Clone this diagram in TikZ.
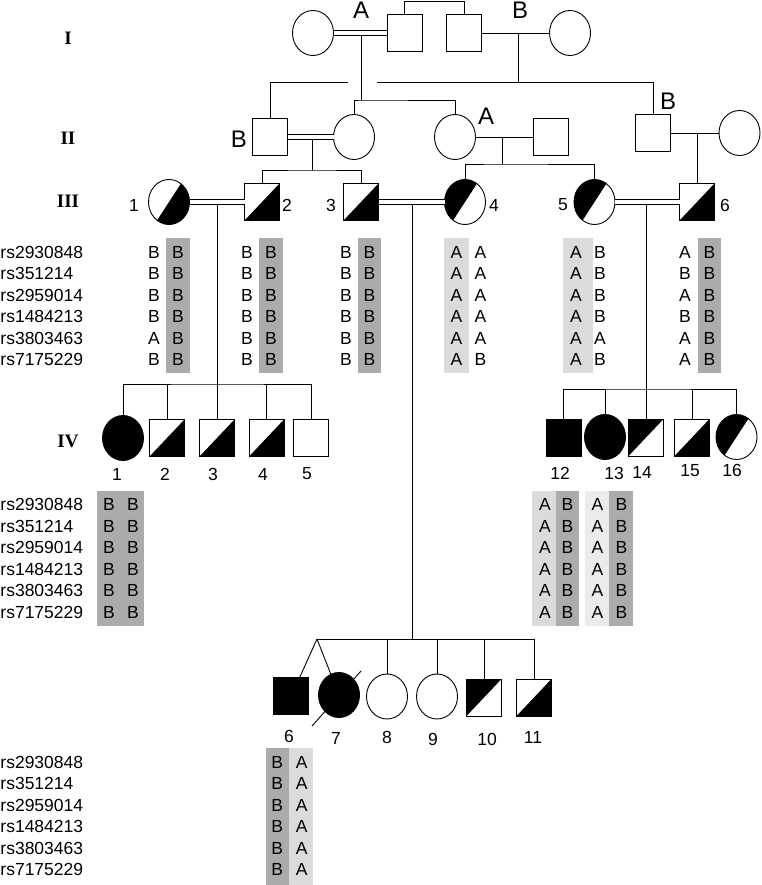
\documentclass[tikz,border=0pt]{standalone}
\usepackage{fontspec}
\setmainfont{Liberation Sans}
\newfontfamily\genfont{Liberation Serif}
\usetikzlibrary{shapes.geometric}

\definecolor{dkgray}{gray}{0.67}
\definecolor{ltgray}{gray}{0.86}
\definecolor{vltgray}{gray}{0.92}

\tikzset{
  male/.style={draw,rectangle,minimum width=35pt,minimum height=37pt,inner sep=0pt,outer sep=0pt},
  female/.style={draw,ellipse,minimum width=41pt,minimum height=45pt,inner sep=0pt,outer sep=0pt},
  sqLR/.style={path picture={\fill (path picture bounding box.south west) -- (path picture bounding box.south east) -- (path picture bounding box.north east) -- cycle;}},
  sqUL/.style={path picture={\fill (path picture bounding box.south west) -- (path picture bounding box.north west) -- (path picture bounding box.north east) -- cycle;}},
  ciLR/.style={path picture={\fill (path picture bounding box.center) ++(57:40pt) -- ++(-33:40pt) -- ++(237:80pt) -- ++(147:40pt) -- cycle;}},
  ciUL/.style={path picture={\fill (path picture bounding box.center) ++(237:40pt) -- ++(147:40pt) -- ++(57:80pt) -- ++(-33:40pt) -- cycle;}},
  dbl/.style={double,double distance=3.6pt},
  allele/.style={inner sep=0pt,font=\fontsize{17.5}{19}\selectfont},
  marker/.style={anchor=west,inner sep=0pt,font=\fontsize{17.5}{19}\selectfont},
  num/.style={inner sep=0pt,font=\fontsize{17.5}{19}\selectfont},
  hap/.style={inner sep=0pt,font=\fontsize{24}{27}\selectfont},
  gen/.style={inner sep=0pt,font=\genfont\bfseries\fontsize{19}{21}\selectfont}
}

% one genotype table: name, x of both columns, y of first row, pairs
\newcommand{\alleles}[5]{%
  \foreach \p/\q [count=\r from 0] in {#5} {
    \node (#1a\r) at (#2,#4+21.5*\r) [allele] {\p};
    \node (#1b\r) at (#3,#4+21.5*\r) [allele] {\q};
  }}
\newcommand{\markers}[2]{%
  \foreach \m [count=\r from 0] in {rs2930848,rs351214,rs2959014,rs1484213,rs3803463,rs7175229}
    \node (#1\r) at (0,#2+21.5*\r) [marker] {\m};}

\begin{document}
\begin{tikzpicture}[x=1pt,y=-1pt,line width=0.9pt]
  \useasboundingbox (0,0) rectangle (762,885);

  \node (gI) at (68,38) [gen] {I};
  \node (gII) at (68,138) [gen] {II};
  \node (gIII) at (68,201) [gen] {III};
  \node (gIV) at (68,441) [gen] {IV};

  % generation I
  \node (i1) at (313,33) [female] {};
  \node (i2) at (404.5,33) [male] {};
  \node (i3) at (464,33) [male] {};
  \node (i4) at (570,33) [female] {};
  \node (hA1) at (361,10) [hap] {A};
  \node (hB1) at (520,10) [hap] {B};

  \coordinate (tI) at (434,1.5);
  \coordinate (m1) at (361,35.5);
  \coordinate (s1) at (361,100);
  \coordinate (m2) at (518,33);
  \coordinate (s2) at (518,82);
  \coordinate (h1) at (348,82);
  \coordinate (h2) at (377,82);

  \draw (i2) |- (tI) -| (i3);
  \draw[dbl] (i1) -- (i2);
  \draw (i3) -- (i4);
  \draw (m1) -- (s1);
  \draw (m2) -- (s2);

  % generation II
  \node (ii1) at (270,137) [male] {};
  \node (ii2) at (354,137) [female] {};
  \node (ii3) at (455,137) [female] {};
  \node (ii4) at (551,137) [male] {};
  \node (ii5) at (653,133) [male] {};
  \node (ii6) at (739.5,133) [female] {};
  \node (hB2) at (239,139) [hap] {B};
  \node (hA2) at (486,116) [hap] {A};
  \node (hB3) at (668,101) [hap] {B};

  \draw (ii2) |- (s1) -| (ii3);
  \draw (ii1) |- (h1);
  \draw (h2) -| (ii5);
  \draw[dbl] (ii1) -- (ii2);
  \draw (ii3) -- (ii4);
  \draw (ii5) -- (ii6);

  \coordinate (m3) at (312,139.5);
  \coordinate (s3) at (312,170);
  \coordinate (m4) at (502,137);
  \coordinate (s4) at (502,164);
  \coordinate (m5) at (697,133);

  % generation III
  \node (iii1) at (169,202) [female,ciLR] {};
  \node (iii2) at (262,202) [male,sqLR] {};
  \node (iii3) at (361,202) [male,sqLR] {};
  \node (iii4) at (465,202) [female,ciUL] {};
  \node (iii5) at (594.5,202) [female,ciUL] {};
  \node (iii6) at (697,202) [male,sqLR] {};
  \node (n31) at (134,205) [num] {1};
  \node (n32) at (287,205) [num] {2};
  \node (n33) at (331,205) [num] {3};
  \node (n34) at (494,205) [num] {4};
  \node (n35) at (563,205) [num] {5};
  \node (n36) at (725,205) [num] {6};

  \draw (m3) -- (s3);
  \draw (m4) -- (s4);
  \draw (m5) -- (iii6);
  \draw (iii2) |- (s3) -| (iii3);
  \draw (iii4) |- (s4) -| (iii5);
  \draw[dbl] (iii1) -- (iii2);
  \draw[dbl] (iii3) -- (iii4);
  \draw[dbl] (iii5) -- (iii6);

  \coordinate (m6) at (217,204.5);
  \coordinate (s6) at (217,384);
  \coordinate (m7) at (412,204.5);
  \coordinate (s7) at (412,639);
  \coordinate (m8) at (646,204.5);
  \coordinate (s8) at (646,389);

  % haplotypes III
  \fill[dkgray] (166,238) rectangle (189.5,373);
  \fill[dkgray] (259,238) rectangle (283,373);
  \fill[dkgray] (357.5,238) rectangle (381,373);
  \fill[ltgray] (444,238) rectangle (469,373);
  \fill[ltgray] (563,238) rectangle (592.5,373);
  \fill[dkgray] (697.5,238) rectangle (721,373);
  \markers{mkIII}{252}
  \alleles{g31}{154}{178}{252}{B/B,B/B,B/B,B/B,A/B,B/B}
  \alleles{g32}{247}{271}{252}{B/B,B/B,B/B,B/B,B/B,B/B}
  \alleles{g33}{346}{369.5}{252}{B/B,B/B,B/B,B/B,B/B,B/B}
  \alleles{g34}{456.5}{480.5}{252}{A/A,A/A,A/A,A/A,A/A,A/B}
  \alleles{g35}{576}{600}{252}{A/B,A/B,A/B,A/B,A/A,A/B}
  \alleles{g36}{685}{709.5}{252}{A/B,B/B,A/B,B/B,A/B,A/B}

  % generation IV
  \node (iv1) at (123,438) [female,fill=black] {};
  \node (iv2) at (167,438) [male,sqLR] {};
  \node (iv3) at (217,438) [male,sqLR] {};
  \node (iv4) at (266.5,438) [male,sqLR] {};
  \node (iv5) at (311,438) [male] {};
  \node (iv12) at (563.5,437.5) [male,fill=black] {};
  \node (iv13) at (605,437) [female,fill=black] {};
  \node (iv14) at (646,437.5) [male,sqUL] {};
  \node (iv15) at (692,437.5) [male,sqLR] {};
  \node (iv16) at (736.5,437) [female,ciUL] {};

  \draw (m6) -- (iv3);
  \draw (iv1) |- (s6) -| (iv5);
  \draw (iv2) -- (iv2 |- s6);
  \draw (iv4) -- (iv4 |- s6);
  \draw (m8) -- (iv14);
  \draw (iv12) |- (s8) -| (iv16);
  \draw (iv13) -- (iv13 |- s8);
  \draw (iv15) -- (iv15 |- s8);

  \node (n41) at (117,474) [num] {1};
  \node (n42) at (165,474) [num] {2};
  \node (n43) at (213,474) [num] {3};
  \node (n44) at (263,474) [num] {4};
  \node (n45) at (307,474) [num] {5};
  \node (n412) at (560,473) [num] {12};
  \node (n413) at (614,473) [num] {13};
  \node (n414) at (642,472) [num] {14};
  \node (n415) at (690,471) [num] {15};
  \node (n416) at (732,470) [num] {16};

  % haplotypes IV
  \fill[dkgray] (96.7,491) rectangle (144,626);
  \fill[ltgray] (531.7,491) rectangle (556,626);
  \fill[dkgray] (556,491) rectangle (579.3,626);
  \fill[vltgray] (585.3,491) rectangle (609.3,626);
  \fill[dkgray] (609.3,491) rectangle (632.7,626);
  \markers{mkIV}{504.5}
  \alleles{g41}{109}{133}{504.5}{B/B,B/B,B/B,B/B,B/B,B/B}
  \alleles{g412}{545}{567.5}{504.5}{A/B,A/B,A/B,A/B,A/B,A/B}
  \alleles{g413}{597.5}{621.5}{504.5}{A/B,A/B,A/B,A/B,A/B,A/B}

  % generation V
  \node (v6) at (291.3,696) [male,fill=black] {};
  \node (v7) at (339,695) [female,fill=black] {};
  \node (v8) at (387,696.5) [female] {};
  \node (v9) at (437,696.5) [female] {};
  \node (v10) at (484,697.5) [male,sqUL] {};
  \node (v11) at (534,697.5) [male,sqLR] {};
  \coordinate (tw) at (317,639);

  \draw (m7) -- (s7);
  \draw (tw) -| (v11);
  \draw (tw) -- (v6);
  \draw (tw) -- (v7);
  \draw (v8) -- (v8 |- s7);
  \draw (v9) -- (v9 |- s7);
  \draw (v10) -- (v10 |- s7);
  \draw (v7.center) ++(-27,31) -- ++(49,-55);

  \node (n56) at (289,736) [num] {6};
  \node (n57) at (336,738) [num] {7};
  \node (n58) at (387,737) [num] {8};
  \node (n59) at (433,739) [num] {9};
  \node (n510) at (487,739) [num] {10};
  \node (n511) at (533,737) [num] {11};

  % haplotypes V
  \fill[dkgray] (265.7,748) rectangle (289.3,885);
  \fill[ltgray] (289.3,748) rectangle (313.3,885);
  \markers{mkV}{762}
  \alleles{g56}{277.3}{301.7}{762}{B/A,B/A,B/A,B/A,B/A,B/A}
\end{tikzpicture}
\end{document}
